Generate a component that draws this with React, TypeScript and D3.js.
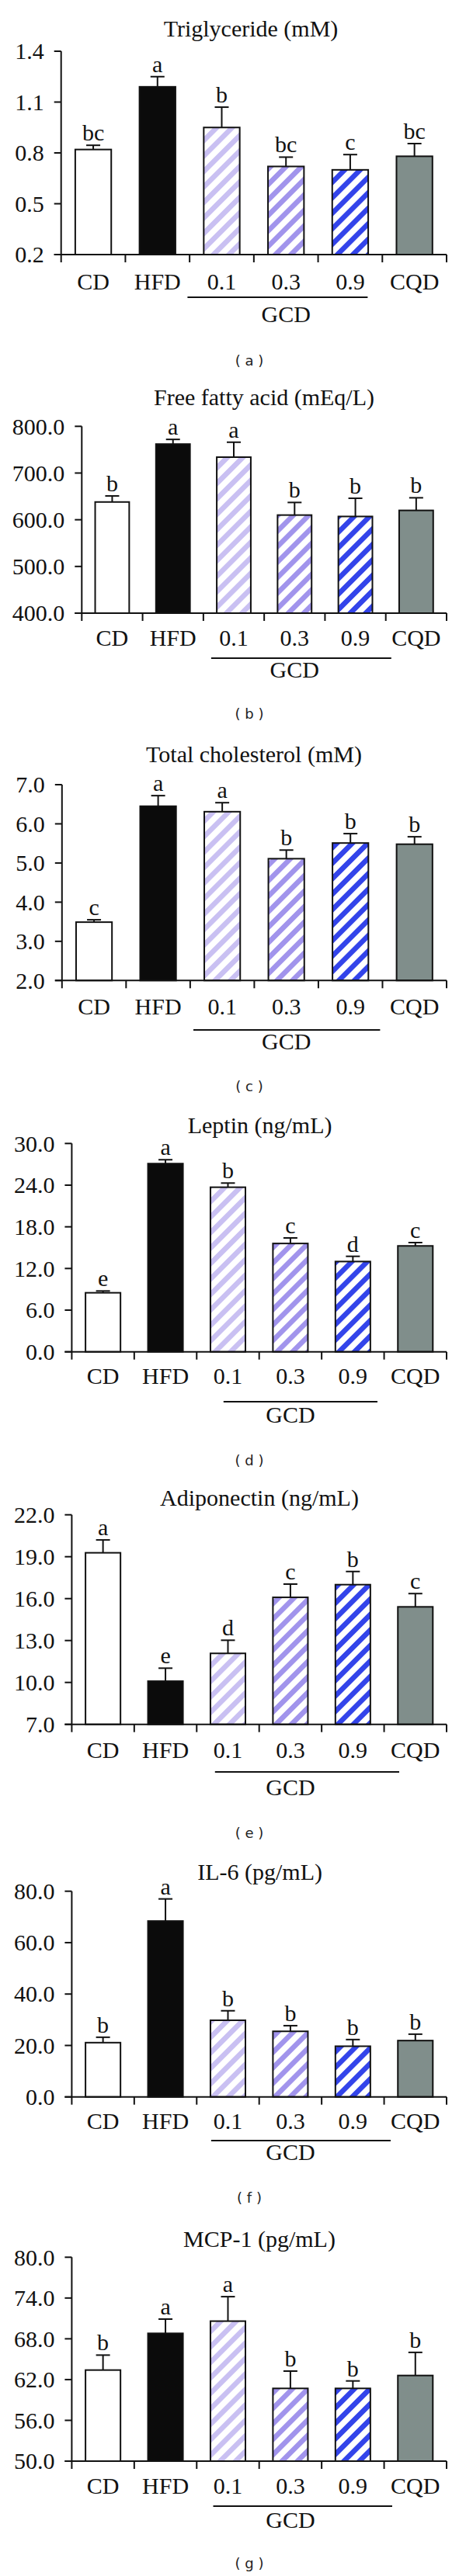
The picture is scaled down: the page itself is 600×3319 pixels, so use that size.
import React from "react";
import * as d3 from "d3";

// ---------- data ----------
const categories = ["CD", "HFD", "0.1", "0.3", "0.9", "CQD"];
const groupLabel = "GCD";
const groupMembers = ["0.1", "0.3", "0.9"];

const triglycerideMean = [0.82, 1.19, 0.95, 0.72, 0.70, 0.78];
const triglycerideSE = [0.025, 0.06, 0.12, 0.055, 0.09, 0.075];
const triglycerideLetters = ["bc", "a", "b", "bc", "c", "bc"];
const triglycerideTicks = [0.2, 0.5, 0.8, 1.1, 1.4];

const ffaMean = [638, 762, 734, 610, 607, 620];
const ffaSE = [13, 10, 32, 27, 39, 27];
const ffaLetters = ["b", "a", "a", "b", "b", "b"];
const ffaTicks = [400, 500, 600, 700, 800];

const cholesterolMean = [3.49, 6.45, 6.31, 5.11, 5.51, 5.48];
const cholesterolSE = [0.06, 0.27, 0.23, 0.22, 0.24, 0.19];
const cholesterolLetters = ["c", "a", "a", "b", "b", "b"];
const cholesterolTicks = [2, 3, 4, 5, 6, 7];

const leptinMean = [8.5, 27.1, 23.7, 15.6, 13.0, 15.25];
const leptinSE = [0.26, 0.56, 0.6, 0.8, 0.75, 0.48];
const leptinLetters = ["e", "a", "b", "c", "d", "c"];
const leptinTicks = [0, 6, 12, 18, 24, 30];

const adiponectinMean = [19.28, 10.09, 12.08, 16.09, 17.0, 15.41];
const adiponectinSE = [0.92, 0.93, 0.94, 0.95, 0.94, 0.95];
const adiponectinLetters = ["a", "e", "d", "c", "b", "c"];
const adiponectinTicks = [7, 10, 13, 16, 19, 22];

const il6Mean = [21.1, 68.4, 29.8, 25.5, 19.7, 21.9];
const il6SE = [2.1, 8.6, 3.7, 2.2, 2.6, 2.5];
const il6Letters = ["b", "a", "b", "b", "b", "b"];
const il6Ticks = [0, 20, 40, 60, 80];

const mcp1Mean = [63.4, 68.8, 70.6, 60.7, 60.7, 62.6];
const mcp1SE = [2.2, 2.1, 3.6, 2.55, 1.1, 3.4];
const mcp1Letters = ["b", "a", "a", "b", "b", "b"];
const mcp1Ticks = [50, 56, 62, 68, 74, 80];

const titles = [
  "Triglyceride (mM)",
  "Free fatty acid (mEq/L)",
  "Total cholesterol (mM)",
  "Leptin (ng/mL)",
  "Adiponectin (ng/mL)",
  "IL-6 (pg/mL)",
  "MCP-1 (pg/mL)",
];
const captions = ["a", "b", "c", "d", "e", "f", "g"];

// ---------- layout / style ----------
const RIGHT = 575;
const layouts = [
  { left: 78.7, yTop: 66, yBot: 328, titleX: 323, titleY: 47, catY: 373, gcdY: 383, gcdX: [241.4, 473.4], gcdTextY: 415, capY: 471 },
  { left: 105.3, yTop: 549.3, yBot: 790, titleX: 340, titleY: 522, catY: 832, gcdY: 848, gcdX: [271.9, 503.8], gcdTextY: 873, capY: 926 },
  { left: 79.8, yTop: 1011, yBot: 1263.3, titleX: 327, titleY: 982, catY: 1307, gcdY: 1327, gcdX: [249, 489.4], gcdTextY: 1352, capY: 1406 },
  { left: 92.4, yTop: 1473.3, yBot: 1741.7, titleX: 334.6, titleY: 1460, catY: 1783, gcdY: 1806, gcdX: [287.8, 486], gcdTextY: 1833, capY: 1888 },
  { left: 92.4, yTop: 1951.7, yBot: 2221.7, titleX: 334, titleY: 1940, catY: 2265, gcdY: 2283, gcdX: [276.8, 514], gcdTextY: 2313, capY: 2368 },
  { left: 92.4, yTop: 2436.7, yBot: 2701.7, titleX: 334.6, titleY: 2422, catY: 2743, gcdY: 2758, gcdX: [271.9, 503], gcdTextY: 2783, capY: 2838 },
  { left: 92.4, yTop: 2908.3, yBot: 3171, titleX: 334, titleY: 2895, catY: 3213, gcdY: 3229, gcdX: [274.5, 505], gcdTextY: 3257, capY: 3309 },
];

const panelsData = [
  { mean: triglycerideMean, se: triglycerideSE, letters: triglycerideLetters, ticks: triglycerideTicks },
  { mean: ffaMean, se: ffaSE, letters: ffaLetters, ticks: ffaTicks },
  { mean: cholesterolMean, se: cholesterolSE, letters: cholesterolLetters, ticks: cholesterolTicks },
  { mean: leptinMean, se: leptinSE, letters: leptinLetters, ticks: leptinTicks },
  { mean: adiponectinMean, se: adiponectinSE, letters: adiponectinLetters, ticks: adiponectinTicks },
  { mean: il6Mean, se: il6SE, letters: il6Letters, ticks: il6Ticks },
  { mean: mcp1Mean, se: mcp1SE, letters: mcp1Letters, ticks: mcp1Ticks },
];

const fills = ["#ffffff", "#0b0b0b", "url(#stripe1)", "url(#stripe3)", "url(#stripe9)", "#808e8b"];
const SERIF = "'Liberation Serif', 'Times New Roman', serif";
const FS = 30;
const fmt = d3.format(".1f");

function Panel({ idx }: { idx: number }) {
  const L = layouts[idx];
  const D = panelsData[idx];
  const x = d3.scaleBand<string>().domain(categories).range([L.left, RIGHT]).padding(0);
  const y = d3
    .scaleLinear()
    .domain([D.ticks[0], D.ticks[D.ticks.length - 1]])
    .range([L.yBot, L.yTop]);
  const bw = x.bandwidth() * 0.56;
  const boundaries = categories.map((c) => x(c) as number).concat([RIGHT]);
  const axisColor = "#111";
  return (
    <g>
      <text x={L.titleX} y={L.titleY} textAnchor="middle" fontFamily={SERIF} fontSize={FS} fill="#111">
        {titles[idx]}
      </text>
      {categories.map((c, i) => {
        const cx = (x(c) as number) + x.bandwidth() / 2;
        const top = y(D.mean[i]);
        const errTop = y(D.mean[i] + D.se[i]);
        return (
          <g key={c}>
            <rect
              x={cx - bw / 2}
              y={top}
              width={bw}
              height={L.yBot - top}
              fill={fills[i]}
              stroke="#111"
              strokeWidth={2}
            />
            <line x1={cx} x2={cx} y1={top} y2={errTop} stroke="#111" strokeWidth={2} />
            <line x1={cx - 9} x2={cx + 9} y1={errTop} y2={errTop} stroke="#111" strokeWidth={2} />
            <text x={cx} y={errTop - 6} textAnchor="middle" fontFamily={SERIF} fontSize={FS} fill="#111">
              {D.letters[i]}
            </text>
            <text x={cx} y={L.catY} textAnchor="middle" fontFamily={SERIF} fontSize={FS} fill="#111">
              {c}
            </text>
          </g>
        );
      })}
      {/* y axis */}
      <line x1={L.left} x2={L.left} y1={L.yTop} y2={L.yBot} stroke={axisColor} strokeWidth={2} />
      {D.ticks.map((t) => (
        <g key={t}>
          <line x1={L.left - 9} x2={L.left} y1={y(t)} y2={y(t)} stroke={axisColor} strokeWidth={2} />
          <text
            x={L.left - 22}
            y={y(t)}
            dy="0.34em"
            textAnchor="end"
            fontFamily={SERIF}
            fontSize={FS}
            fill="#111"
          >
            {fmt(t)}
          </text>
        </g>
      ))}
      {/* x axis */}
      <line x1={L.left - 9} x2={RIGHT} y1={L.yBot} y2={L.yBot} stroke={axisColor} strokeWidth={2} />
      {boundaries.map((b, i) => (
        <line key={i} x1={b} x2={b} y1={L.yBot} y2={L.yBot + 10} stroke={axisColor} strokeWidth={2} />
      ))}
      {/* group bracket */}
      <line x1={L.gcdX[0]} x2={L.gcdX[1]} y1={L.gcdY} y2={L.gcdY} stroke="#111" strokeWidth={2} />
      <text
        x={(x(groupMembers[1]) as number) + x.bandwidth() / 2}
        y={L.gcdTextY}
        textAnchor="middle"
        fontFamily={SERIF}
        fontSize={FS}
        fill="#111"
      >
        {groupLabel}
      </text>
      <text
        x={321}
        y={L.capY}
        textAnchor="middle"
        fontFamily="'DejaVu Sans', sans-serif"
        fontSize={18}
        fill="#222"
        xmlSpace="preserve"
      >
        {`( ${captions[idx]} )`}
      </text>
    </g>
  );
}

function Stripe({ id, color }: { id: string; color: string }) {
  return (
    <pattern id={id} patternUnits="userSpaceOnUse" width={14.1} height={14.1} patternTransform="rotate(45)">
      <rect x={0} y={0} width={14.1} height={14.1} fill="#ffffff" />
      <rect x={0} y={0} width={6.6} height={14.1} fill={color} />
    </pattern>
  );
}

export default function App() {
  return (
    <svg
      width={600}
      height={3319}
      style={{ position: "absolute", left: 0, top: 0, background: "#ffffff" }}
    >
      <defs>
        <Stripe id="stripe1" color="#c9c0f2" />
        <Stripe id="stripe3" color="#a194ec" />
        <Stripe id="stripe9" color="#3344ea" />
      </defs>
      <rect x={0} y={0} width={600} height={3319} fill="#ffffff" />
      {layouts.map((_, i) => (
        <Panel key={i} idx={i} />
      ))}
    </svg>
  );
}
